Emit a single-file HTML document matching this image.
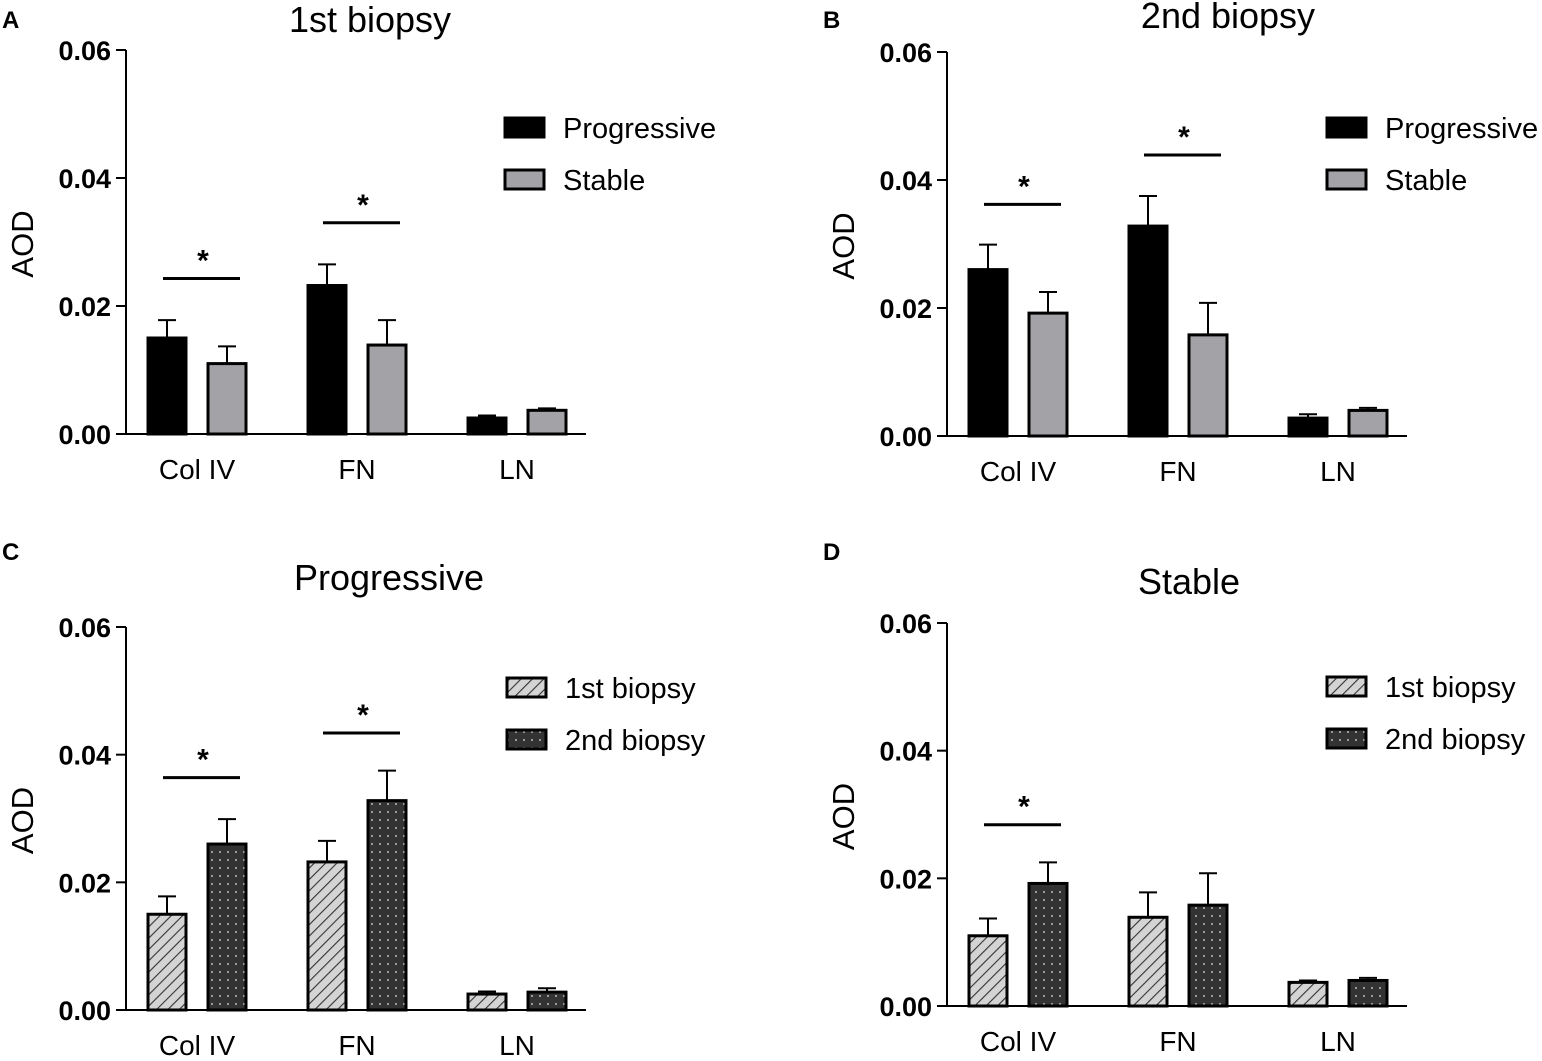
<!DOCTYPE html>
<html><head><meta charset="utf-8">
<style>
html,body{margin:0;padding:0;background:#fff;}
svg{display:block;font-family:"Liberation Sans",Arial,sans-serif;}
</style></head>
<body>
<svg id="fig" width="1542" height="1061" viewBox="0 0 1542 1061" xmlns="http://www.w3.org/2000/svg">
<defs>
<pattern id="hatch" patternUnits="userSpaceOnUse" width="8" height="8" patternTransform="rotate(45)">
<rect width="8" height="8" fill="#d4d4d4"/>
<line x1="0" y1="0" x2="0" y2="8" stroke="#333" stroke-width="2.2"/>
</pattern>
<pattern id="dots" patternUnits="userSpaceOnUse" width="8" height="8">
<rect width="8" height="8" fill="#333"/>
<circle cx="4" cy="4" r="1" fill="#bbb"/>
</pattern>
</defs>
</svg>
<script>
const categories = ["Col IV","FN","LN"];
const ticks = [0, 0.02, 0.04, 0.06];
const tickLabels = ["0.00","0.02","0.04","0.06"];
const prog1 = [0.0150, 0.0232, 0.0025];
const prog1Err = [0.0028, 0.0033, 0.0004];
const stab1 = [0.0110, 0.0139, 0.0037];
const stab1Err = [0.0027, 0.0039, 0.0003];
const prog2 = [0.0260, 0.0328, 0.0028];
const prog2Err = [0.0039, 0.0047, 0.0006];
const stab2 = [0.0192, 0.0158, 0.0040];
const stab2Err = [0.0033, 0.0050, 0.0004];
const sigA = [[0, 0.0243],[1, 0.0330]];
const sigB = [[0, 0.0362],[1, 0.0439]];
const sigC = [[0, 0.0364],[1, 0.0434]];
const sigD = [[0, 0.0284]];

const NS="http://www.w3.org/2000/svg";
const svg=document.getElementById('fig');
function mk(tag, attrs, parent, text){
  const e=document.createElementNS(NS,tag);
  for(const k in attrs) e.setAttribute(k, attrs[k]);
  if(text!==undefined) e.textContent=text;
  (parent||svg).appendChild(e); return e;
}
const panels=[
 {id:'a',letter:'A',title:'1st biopsy',ax:126,y0:434,ytop:50,ty:32,tx:370,s:[prog1,stab1],e:[prog1Err,stab1Err],fills:['#000','#a3a3a7'],names:['Progressive','Stable'],sig:sigA,lx:505,ly:[128,180],ly0:28},
 {id:'b',letter:'B',title:'2nd biopsy',ax:947,y0:436,ytop:52,ty:28,tx:1228,s:[prog2,stab2],e:[prog2Err,stab2Err],fills:['#000','#a3a3a7'],names:['Progressive','Stable'],sig:sigB,lx:1327,ly:[128,180],ly0:28},
 {id:'c',letter:'C',title:'Progressive',ax:126,y0:1010,ytop:627,ty:590,tx:389,s:[prog1,prog2],e:[prog1Err,prog2Err],fills:['url(#hatch)','url(#dots)'],names:['1st biopsy','2nd biopsy'],sig:sigC,lx:507,ly:[688,740],ly0:560},
 {id:'d',letter:'D',title:'Stable',ax:947,y0:1006,ytop:623,ty:594,tx:1189,s:[stab1,stab2],e:[stab1Err,stab2Err],fills:['url(#hatch)','url(#dots)'],names:['1st biopsy','2nd biopsy'],sig:sigD,lx:1327,ly:[687,739],ly0:560}
];
panels.forEach(p=>{
  const g=mk('g',{});
  
  
  const yS=v=>p.y0-(v/0.06)*(p.y0-p.ytop);
  const xC=i=>p.ax+71+i*160;
  const lt=mk('text',{x:p.ax-124,y:p.ly0,'font-size':24,'font-weight':'bold'},g,p.letter);
  
  
  const t=mk('text',{x:p.tx,y:p.ty,'font-size':36,'text-anchor':'middle'},g,p.title);
  
  
  const yl=mk('text',{x:0,y:0,'font-size':31,'text-anchor':'middle',transform:`translate(${p.ax-93},${(p.y0+p.ytop)/2+2}) rotate(-90)`},g,'AOD');
  
  
  const ya=mk('line',{x1:p.ax,y1:p.ytop,x2:p.ax,y2:p.y0,stroke:'#000','stroke-width':2},g);
  
  
  const xa=mk('line',{x1:p.ax-1,y1:p.y0,x2:p.ax+460,y2:p.y0,stroke:'#000','stroke-width':2},g);
  
  
  ticks.forEach((tv,i)=>{
    mk('line',{x1:p.ax-10,y1:yS(tv),x2:p.ax,y2:yS(tv),stroke:'#000','stroke-width':2},g);
    const tl=mk('text',{x:p.ax-15,y:yS(tv)+10,'font-size':27,'font-weight':'bold','text-anchor':'end'},g,tickLabels[i]);
    
    
  });
  categories.forEach((c,i)=>{
    const cl=mk('text',{x:xC(i),y:p.y0+45,'font-size':28,'text-anchor':'middle'},g,c);
    
    
    for(let s=0;s<2;s++){
      const x=xC(i)+(s===0?-49:11), w=38;
      const v=p.s[s][i], top=yS(v), et=yS(v+p.e[s][i]);
      mk('line',{x1:x+w/2,y1:top,x2:x+w/2,y2:et,stroke:'#000','stroke-width':2},g);
      mk('line',{x1:x+w/2-9,y1:et,x2:x+w/2+9,y2:et,stroke:'#000','stroke-width':2},g);
      const b=mk('rect',{x:x,y:top,width:w,height:p.y0-top,fill:p.fills[s],stroke:'#000','stroke-width':3},g);
      
      
    }
  });
  p.sig.forEach(sg=>{
    const y=yS(sg[1]), cx=xC(sg[0]);
    const sl=mk('line',{x1:cx-34,y1:y,x2:cx+43,y2:y,stroke:'#000','stroke-width':3},g);
    
    
    const st=mk('text',{x:cx+6,y:y-8,'font-size':30,'font-weight':'bold','text-anchor':'middle'},g,'*');
    
    
  });
  p.names.forEach((n,i)=>{
    const y=p.ly[i];
    const r=mk('rect',{x:p.lx,y:y-10,width:39,height:19,fill:p.fills[i],stroke:'#000','stroke-width':3},g);
    
    
    const lt2=mk('text',{x:p.lx+58,y:y+10,'font-size':29},g,n);
    
    
  });
});
</script>
</body></html>
